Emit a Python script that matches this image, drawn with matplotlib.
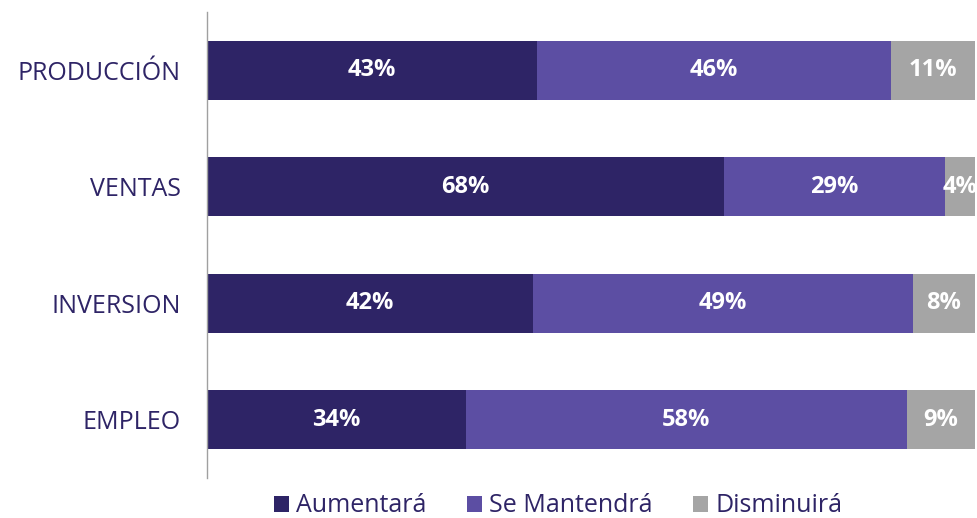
import matplotlib
matplotlib.use("Agg")
import matplotlib.pyplot as plt
import numpy as np

categories = ["PRODUCCIÓN", "VENTAS", "INVERSION", "EMPLEO"]
series_names = ["Aumentará", "Se Mantendrá", "Disminuirá"]
aumentara = [43, 68, 42, 34]
mantendra = [46, 29, 49, 58]
disminuira = [11, 4, 8, 9]
colors = ["#2e2466", "#5c4ea3", "#a5a5a5"]

plt.rcParams['font.family'] = ['Open Sans', 'DejaVu Sans']

fig = plt.figure(figsize=(9.77, 5.18), dpi=100)
ax = fig.add_axes([207/977, 1-478/518, (975-207)/977, (478-12)/518])

data = np.array([aumentara, mantendra, disminuira], dtype=float)
totals = data.sum(axis=0)
shares = data / totals

y = np.arange(len(categories))
left = np.zeros(len(categories))
for i, name in enumerate(series_names):
    ax.barh(y, shares[i], left=left, height=0.51, color=colors[i], label=name)
    for j in range(len(categories)):
        ax.text(left[j] + shares[i][j] / 2, y[j], f"{int(data[i][j])}%",
                ha="center", va="center", color="white", fontsize=17, fontweight="bold")
    left += shares[i]

ax.set_xlim(0, 1)
ax.set_ylim(3.5, -0.5)
ax.set_yticks(y)
ax.set_yticklabels(categories, fontsize=18, color="#2e2466")
ax.tick_params(axis="y", length=0, pad=19)
ax.set_xticks([])
for s in ["top", "right", "bottom"]:
    ax.spines[s].set_visible(False)
ax.spines["left"].set_color("#a0a0a0")
ax.spines["left"].set_linewidth(1)

leg = fig.legend(loc="center", bbox_to_anchor=(0.571, 12/518), ncol=3, frameon=False,
                 fontsize=18, handlelength=0.6, handleheight=0.6, handletextpad=0.3,
                 columnspacing=1.6, borderpad=0)
for t in leg.get_texts():
    t.set_color("#2e2466")

fig.savefig("out.png", dpi=100)
